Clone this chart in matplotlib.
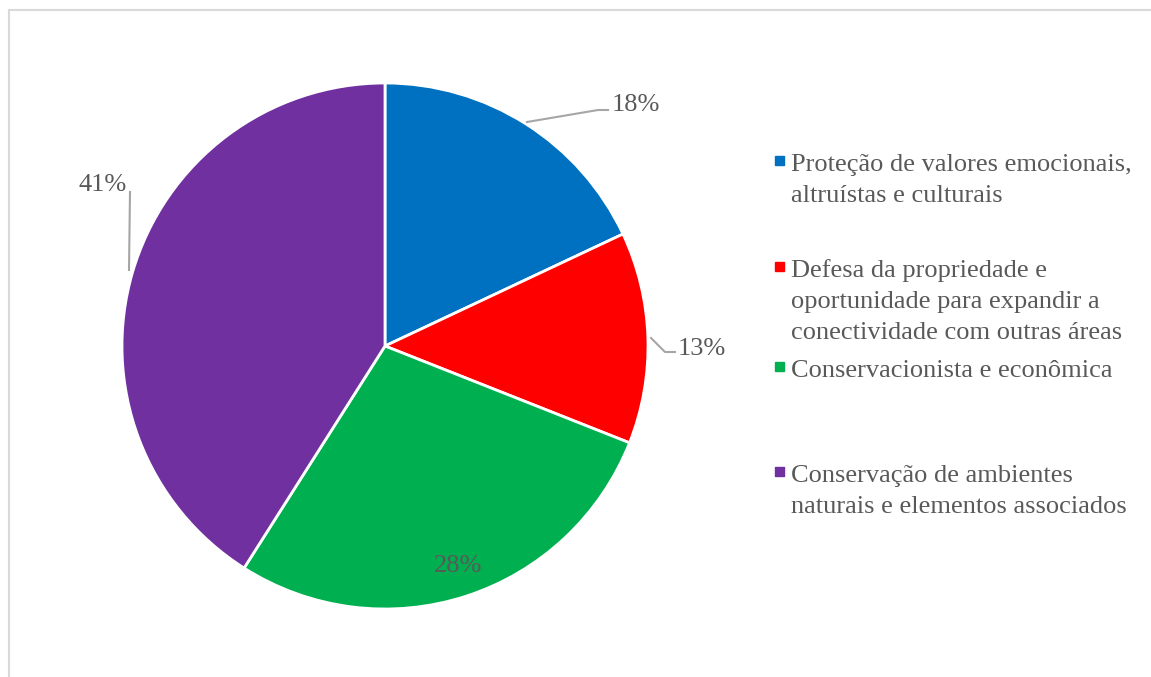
import numpy as np
import matplotlib
matplotlib.use("Agg")
from matplotlib import pyplot as plt
from matplotlib.patches import Rectangle

# dados
categorias = ["Proteção de valores emocionais,\naltruístas e culturais",
              "Defesa da propriedade e\noportunidade para expandir a\nconectividade com outras áreas",
              "Conservacionista e econômica",
              "Conservação de ambientes\nnaturais e elementos associados"]
valores = [18, 13, 28, 41]
cores = ["#0070C0", "#FF0000", "#00B050", "#7030A0"]

W, H = 1151, 677
plt.rcParams['font.family'] = ['Liberation Serif', 'DejaVu Serif']
fig = plt.figure(figsize=(W / 100, H / 100), dpi=100)

# centro do pie em pixels e raio
cx, cy, r = 385, 346, 263
ax = fig.add_axes([(cx - r) / W, (H - cy - r) / H, 2 * r / W, 2 * r / H])
ax.pie(valores, colors=cores, startangle=90, counterclock=False, radius=1,
       wedgeprops=dict(edgecolor="white", linewidth=2))
ax.set_xlim(-1, 1)
ax.set_ylim(-1, 1)
ax.set_aspect("equal")
ax.axis("off")

cinza = "#595959"
linha = "#A6A6A6"
fs = 19

def px(x, y):
    return ((x - cx) / r, (cy - y) / r)

# rotulos com linhas de chamada
rot = [f"{v}%" for v in valores]
# 18%
pts = [px(527, 122), px(598, 110), px(608, 110)]
ax.plot(*zip(*pts), color=linha, lw=1.5, clip_on=False)
ax.text(*px(612, 111), rot[0], ha="left", va="baseline", fontsize=fs, color=cinza)
# 13%
pts = [px(651, 338), px(665, 352), px(675, 352)]
ax.plot(*zip(*pts), color=linha, lw=1.5, clip_on=False)
ax.text(*px(678, 355), rot[1], ha="left", va="baseline", fontsize=fs, color=cinza)
# 28%
ax.text(*px(458, 572), rot[2], ha="center", va="baseline", fontsize=fs, color=cinza)
# 41%
pts = [px(130, 192), px(129, 270)]
ax.plot(*zip(*pts), color=linha, lw=1.5, clip_on=False)
ax.text(*px(103, 191), rot[3], ha="center", va="baseline", fontsize=fs, color=cinza)

# legenda manual
leg_y = [171, 277, 377, 482]   # linha de base da primeira linha
passo = 31
for cat, cor, y in zip(categorias, cores, leg_y):
    fig.patches.append(Rectangle((775 / W, (H - y + 6) / H), 9 / W, 9 / H,
                                 transform=fig.transFigure, color=cor))
    for i, t in enumerate(cat.split("\n")):
        fig.text(791 / W, (H - y - i * passo) / H, t, ha="left", va="baseline",
                 fontsize=fs, color=cinza)

# borda do grafico
fig.patches.append(Rectangle((9 / W, -0.1), 1.2, (H - 10) / H + 0.1,
                             transform=fig.transFigure, fill=False,
                             edgecolor="#D9D9D9", linewidth=1.5))

fig.savefig("out.png", dpi=100)
